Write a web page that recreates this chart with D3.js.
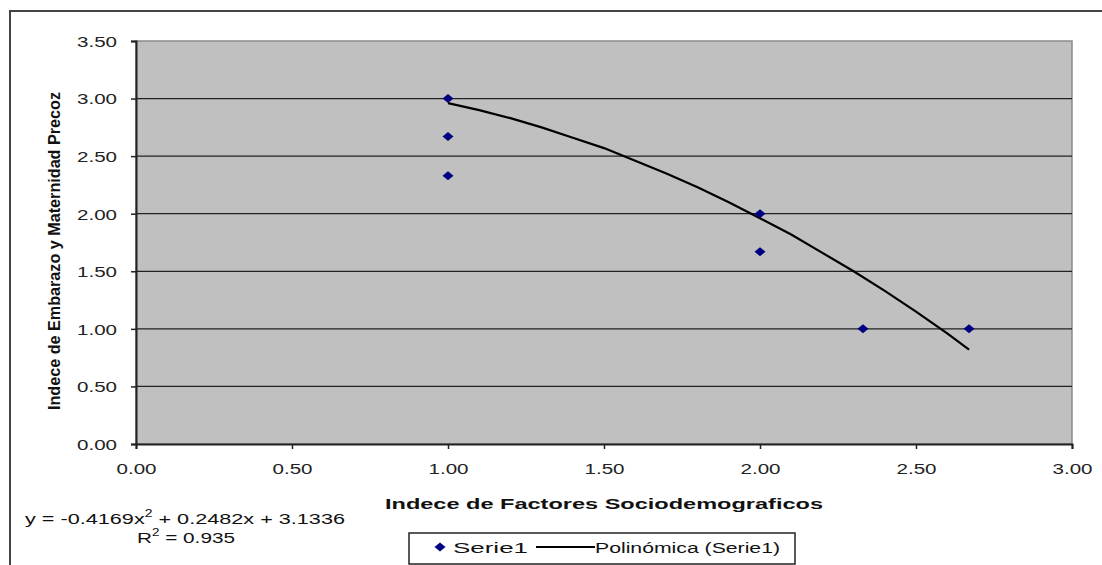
<!DOCTYPE html>
<html><head><meta charset="utf-8">
<script src="https://cdn.jsdelivr.net/npm/d3@7"></script>
<style>
html,body{margin:0;padding:0;background:#fff;}
text{font-family:"Liberation Sans",Arial,sans-serif;}
</style></head>
<body><svg id="c" width="1102" height="565"></svg>
<script>
// Data
const pointX = [1.00, 1.00, 1.00, 2.00, 2.00, 2.33, 2.67];
const pointY = [3.00, 2.67, 2.33, 2.00, 1.67, 1.00, 1.00];
const trendX = [1.0, 1.1, 1.2, 1.3, 1.4, 1.5, 1.6, 1.7, 1.8, 1.9, 2.0, 2.1, 2.2, 2.3, 2.4, 2.5, 2.6, 2.67];
const trendY = [2.96, 2.90, 2.83, 2.75, 2.66, 2.57, 2.46, 2.35, 2.23, 2.10, 1.96, 1.82, 1.66, 1.50, 1.33, 1.15, 0.96, 0.82];
const xTicks = [0, 0.5, 1, 1.5, 2, 2.5, 3];
const yTicks = [0, 0.5, 1, 1.5, 2, 2.5, 3, 3.5];
const xTitle = "Indece de Factores Sociodemograficos";
const yTitle = "Indece de Embarazo y Maternidad Precoz";
const seriesName = "Serie1";
const trendName = "Polinómica (Serie1)";

const svg = d3.select("#c");
// outer chart border
svg.append("rect").attr("x",10).attr("y",11).attr("width",1110).attr("height",580)
  .attr("fill","none").attr("stroke","#444").attr("stroke-width",2);

const L=136, R=1072, T=41, B=444;
const x = d3.scaleLinear().domain([0,3]).range([L,R]);
const y = d3.scaleLinear().domain([0,3.5]).range([B,T]);

// plot area
svg.append("rect").attr("x",L).attr("y",T).attr("width",R-L).attr("height",B-T)
  .attr("fill","#c0c0c0").attr("stroke","#8a8a8a").attr("stroke-width",1.5);

// gridlines
svg.append("g").selectAll("line").data(yTicks.filter(d=>d>0 && d<3.5)).join("line")
  .attr("x1",L).attr("x2",R).attr("y1",d=>y(d)).attr("y2",d=>y(d))
  .attr("stroke","#222").attr("stroke-width",1.2);

// axes
const fmt = d3.format(".2f");
const yAxis = svg.append("g").attr("transform",`translate(${L},0)`)
  .call(d3.axisLeft(y).tickValues(yTicks).tickFormat(fmt).tickSize(5).tickPadding(14));
const xAxis = svg.append("g").attr("transform",`translate(0,${B})`)
  .call(d3.axisBottom(x).tickValues(xTicks).tickFormat(fmt).tickSize(5).tickPadding(14));
[yAxis,xAxis].forEach(g=>{
  g.attr("font-size",15).attr("font-family","'Liberation Sans',Arial,sans-serif");
  g.select(".domain").attr("stroke","#222").attr("stroke-width",2);
  g.selectAll(".tick line").attr("stroke","#222").attr("stroke-width",1.5);
  g.selectAll("text").style("font-size","15px").attr("fill","#222")
    .attr("textLength",40).attr("lengthAdjust","spacingAndGlyphs");
});
yAxis.selectAll("text").attr("dy","0.36em");

// trendline
svg.append("path").datum(trendX.map((d,i)=>[d,trendY[i]]))
  .attr("d",d3.line().x(d=>x(d[0])).y(d=>y(d[1])))
  .attr("fill","none").attr("stroke","#000").attr("stroke-width",2.2);

// points
const diamond = "M0,-4.5L5.5,0L0,4.5L-5.5,0Z";
svg.append("g").selectAll("path").data(pointX.map((d,i)=>[d,pointY[i]])).join("path")
  .attr("d",diamond).attr("transform",d=>`translate(${x(d[0])},${y(d[1])})`)
  .attr("fill","#000080");

// axis titles
svg.append("text").attr("x",604).attr("y",509).attr("text-anchor","middle")
  .attr("font-weight","bold").style("font-size","15.5px").attr("fill","#111")
  .attr("textLength",438).attr("lengthAdjust","spacingAndGlyphs").text(xTitle);
svg.append("text").attr("transform","translate(60,251) rotate(-90)").attr("text-anchor","middle")
  .attr("font-weight","bold").style("font-size","16.5px").attr("fill","#111")
  .attr("textLength",318).attr("lengthAdjust","spacingAndGlyphs").text(yTitle);

// equation
const eq = svg.append("text").attr("x",25).attr("y",524).style("font-size","15.5px").attr("fill","#111")
  .attr("textLength",320).attr("lengthAdjust","spacingAndGlyphs");
eq.append("tspan").text("y = -0.4169x");
eq.append("tspan").attr("dy",-7).style("font-size","10px").text("2");
eq.append("tspan").attr("dy",7).text(" + 0.2482x + 3.1336");
const r2 = svg.append("text").attr("x",137).attr("y",543).style("font-size","15.5px").attr("fill","#111")
  .attr("textLength",98).attr("lengthAdjust","spacingAndGlyphs");
r2.append("tspan").text("R");
r2.append("tspan").attr("dy",-7).style("font-size","10px").text("2");
r2.append("tspan").attr("dy",7).text(" = 0.935");

// legend
const lg = svg.append("g");
lg.append("rect").attr("x",409).attr("y",533).attr("width",386).attr("height",31)
  .attr("fill","#fff").attr("stroke","#222").attr("stroke-width",1.5);
lg.append("path").attr("d",diamond).attr("transform","translate(440,547)").attr("fill","#000080");
lg.append("text").attr("x",453).attr("y",553).style("font-size","15.5px").attr("fill","#111")
  .attr("textLength",75).attr("lengthAdjust","spacingAndGlyphs").text(seriesName);
lg.append("line").attr("x1",536).attr("x2",595).attr("y1",547).attr("y2",547).attr("stroke","#000").attr("stroke-width",2);
lg.append("text").attr("x",595).attr("y",553).style("font-size","15.5px").attr("fill","#111")
  .attr("textLength",185).attr("lengthAdjust","spacingAndGlyphs").text(trendName);
</script></body></html>
